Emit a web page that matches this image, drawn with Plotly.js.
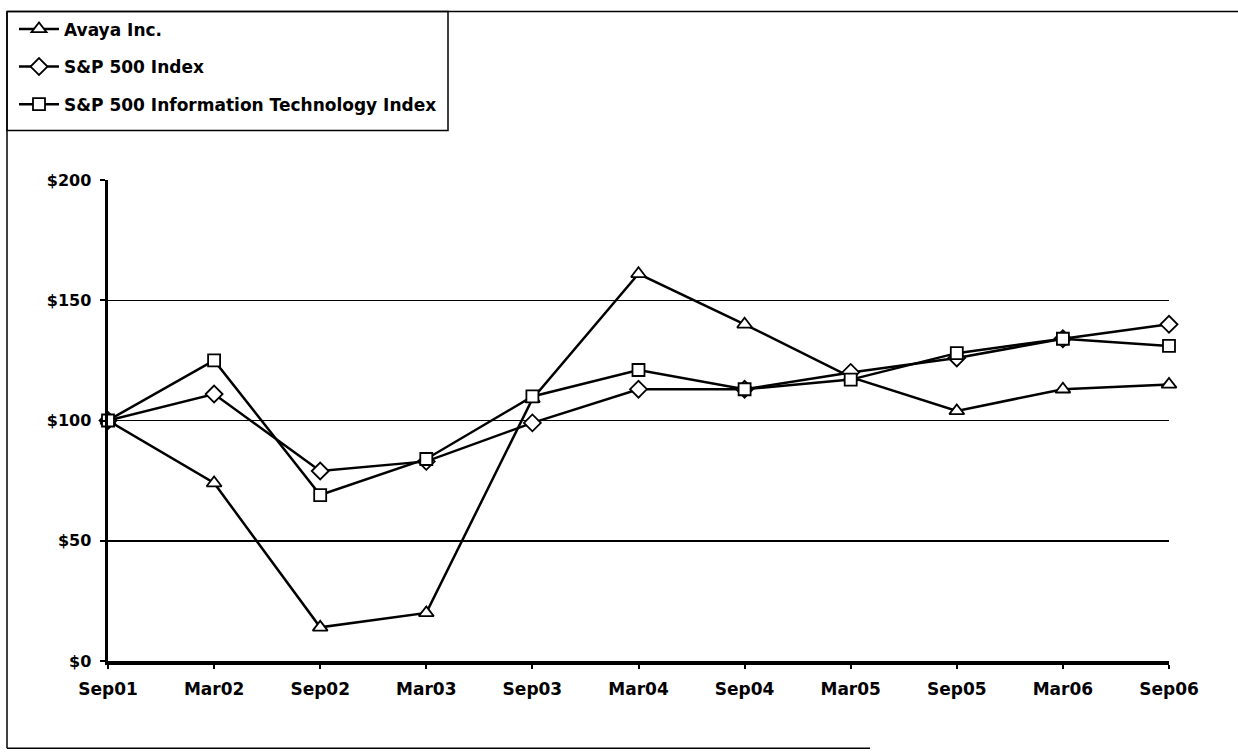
<!DOCTYPE html>
<html>
<head>
<meta charset="utf-8">
<script src="https://cdn.plot.ly/plotly-3.0.1.min.js"></script>
<style>html,body{margin:0;padding:0;background:#fff;}#chart{width:1238px;height:752px;}</style>
</head>
<body>
<div id="chart"></div>
<script>
const periods = ["Sep01","Mar02","Sep02","Mar03","Sep03","Mar04","Sep04","Mar05","Sep05","Mar06","Sep06"];
const avaya   = [100, 74, 14, 20, 109, 161, 140, 118, 104, 113, 115];
const sp500   = [100, 111, 79, 83, 99, 113, 113, 120, 126, 134, 140];
const spIT    = [100, 125, 69, 84, 110, 121, 113, 117, 128, 134, 131];
const yTicks  = [0, 50, 100, 150, 200];
const yTickText = ["$0","$50","$100","$150","$200"];

const idx = periods.map((p,i)=>i);
const W = 1238, H = 752;
const L = 108, R = 1169, T = 176, B = 661;
const px = x => (x - L)/(R - L);
const py = y => (B - y)/(B - T);

function tr(name, y, sym, size){
  return {
    x: idx, y: y, name: name, type: 'scatter', mode: 'lines+markers',
    legendgroup: name, cliponaxis: false,
    line: {color: '#000', width: 2.5},
    marker: {symbol: sym, size: size, color: '#fff', line: {color: '#000', width: 1.8}}
  };
}
const data = [
  tr('Avaya Inc.', avaya, 'triangle-up', 13),
  tr('S&P 500 Index', sp500, 'diamond', 13),
  tr('S&P 500 Information Technology Index', spIT, 'square', 12)
];

const font = {family: 'DejaVu Sans, Liberation Sans, Arial, sans-serif', color: '#000', weight: 'bold'};
const thin = {color: '#000', width: 1.5};

const layout = {
  width: W, height: H,
  margin: {l: L, r: W - R, t: T, b: H - B, pad: 0},
  paper_bgcolor: '#fff', plot_bgcolor: '#fff',
  showlegend: true,
  legend: {
    x: px(14), y: py(6), xanchor: 'left', yanchor: 'top',
    borderwidth: 0, bgcolor: 'rgba(0,0,0,0)',
    font: Object.assign({size: 17}, font),
    tracegroupgap: 12.5, itemwidth: 40
  },
  xaxis: {
    range: [0, periods.length - 1], tickvals: idx, ticktext: periods,
    showgrid: false, zeroline: false,
    showline: true, linecolor: '#000', linewidth: 3.5,
    ticks: 'outside', ticklen: 4, tickwidth: 2, tickcolor: '#000',
    ticklabelstandoff: 6,
    tickfont: Object.assign({size: 17}, font), fixedrange: true
  },
  yaxis: {
    range: [0, 200], tickvals: yTicks, ticktext: yTickText,
    showgrid: true, gridcolor: '#000', gridwidth: 1.5, zeroline: false,
    showline: true, linecolor: '#000', linewidth: 3.5,
    ticks: 'outside', ticklen: 5, tickwidth: 2, tickcolor: '#000',
    ticklabelstandoff: 5,
    tickfont: Object.assign({size: 16}, font), fixedrange: true
  },
  shapes: [
    {type: 'line', xref: 'paper', yref: 'paper', x0: px(7), x1: px(1238), y0: py(6), y1: py(6), line: thin},
    {type: 'line', xref: 'paper', yref: 'paper', x0: px(7), x1: px(7), y0: py(6), y1: py(749), line: thin},
    {type: 'line', xref: 'paper', yref: 'paper', x0: px(7), x1: px(870), y0: py(749), y1: py(749), line: thin},
    {type: 'rect', xref: 'paper', yref: 'paper', x0: px(7), x1: px(448), y0: py(6), y1: py(126), line: thin, fillcolor: 'rgba(0,0,0,0)'}
  ]
};

Plotly.newPlot('chart', data, layout, {displayModeBar: false, staticPlot: true});
</script>
</body>
</html>
